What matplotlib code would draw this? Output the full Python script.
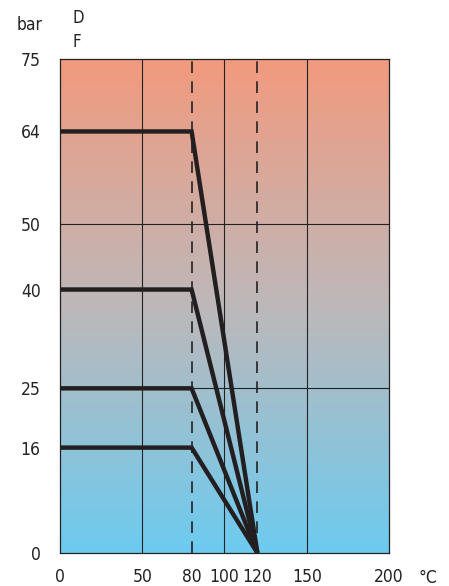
import matplotlib.pyplot as plt
import numpy as np
from matplotlib.colors import LinearSegmentedColormap

# data
pressures = [64, 40, 25, 16]
t_bend = 80
t_end = 120
x_ticks = [0, 50, 80, 100, 120, 150, 200]
y_ticks = [0, 16, 25, 40, 50, 64, 75]
solid_x = [50, 100, 150]
dashed_x = [80, 120]
solid_y = [25, 50]

plt.rcParams['font.family'] = ['DejaVu Sans']
plt.rcParams['font.stretch'] = 'condensed'

fig = plt.figure(figsize=(4.49, 5.86), dpi=100)
ax = fig.add_axes([60/449, 33/586, 329/449, 494/586])
ax.set_xlim(0, 200)
ax.set_ylim(0, 75)

# gradient background
cmap = LinearSegmentedColormap.from_list('bg', ['#6ccbf0', '#bdb8ba', '#f29a7e'])
grad = np.linspace(0, 1, 256).reshape(-1, 1)
ax.imshow(grad, cmap=cmap, aspect='auto', extent=[0, 200, 0, 75], origin='lower', zorder=0)

for x in solid_x:
    ax.axvline(x, color='#222222', lw=0.8, zorder=1)
for y in solid_y:
    ax.axhline(y, color='#222222', lw=0.8, zorder=1)
for x in dashed_x:
    ax.axvline(x, color='#222222', lw=1.2, ls=(0, (7, 5)), zorder=1)

for p in pressures:
    ax.plot([0, t_bend, t_end], [p, p, 0], color='#231f20', lw=3.2,
            solid_joinstyle='miter', solid_capstyle='butt', zorder=3)

for s in ax.spines.values():
    s.set_color('#222222')
    s.set_linewidth(0.9)

ax.set_xticks(x_ticks)
ax.set_yticks(y_ticks)
ax.tick_params(length=0, labelsize=12.5, colors='#222222')
ax.tick_params(axis='x', pad=11)
ax.tick_params(axis='y', pad=14)

fig.text(428/449, 1 - 578/586, '°C', fontsize=12.5, ha='center', va='center', color='#222222')
fig.text(30/449, 1 - 25/586, 'bar', fontsize=12.5, ha='center', va='center', color='#222222')
fig.text(72/449, 1 - 18/586, 'D', fontsize=12, ha='left', va='center', color='#222222')
fig.text(72/449, 1 - 42/586, 'F', fontsize=12, ha='left', va='center', color='#222222')

fig.savefig('out.png', dpi=100, facecolor='white')
